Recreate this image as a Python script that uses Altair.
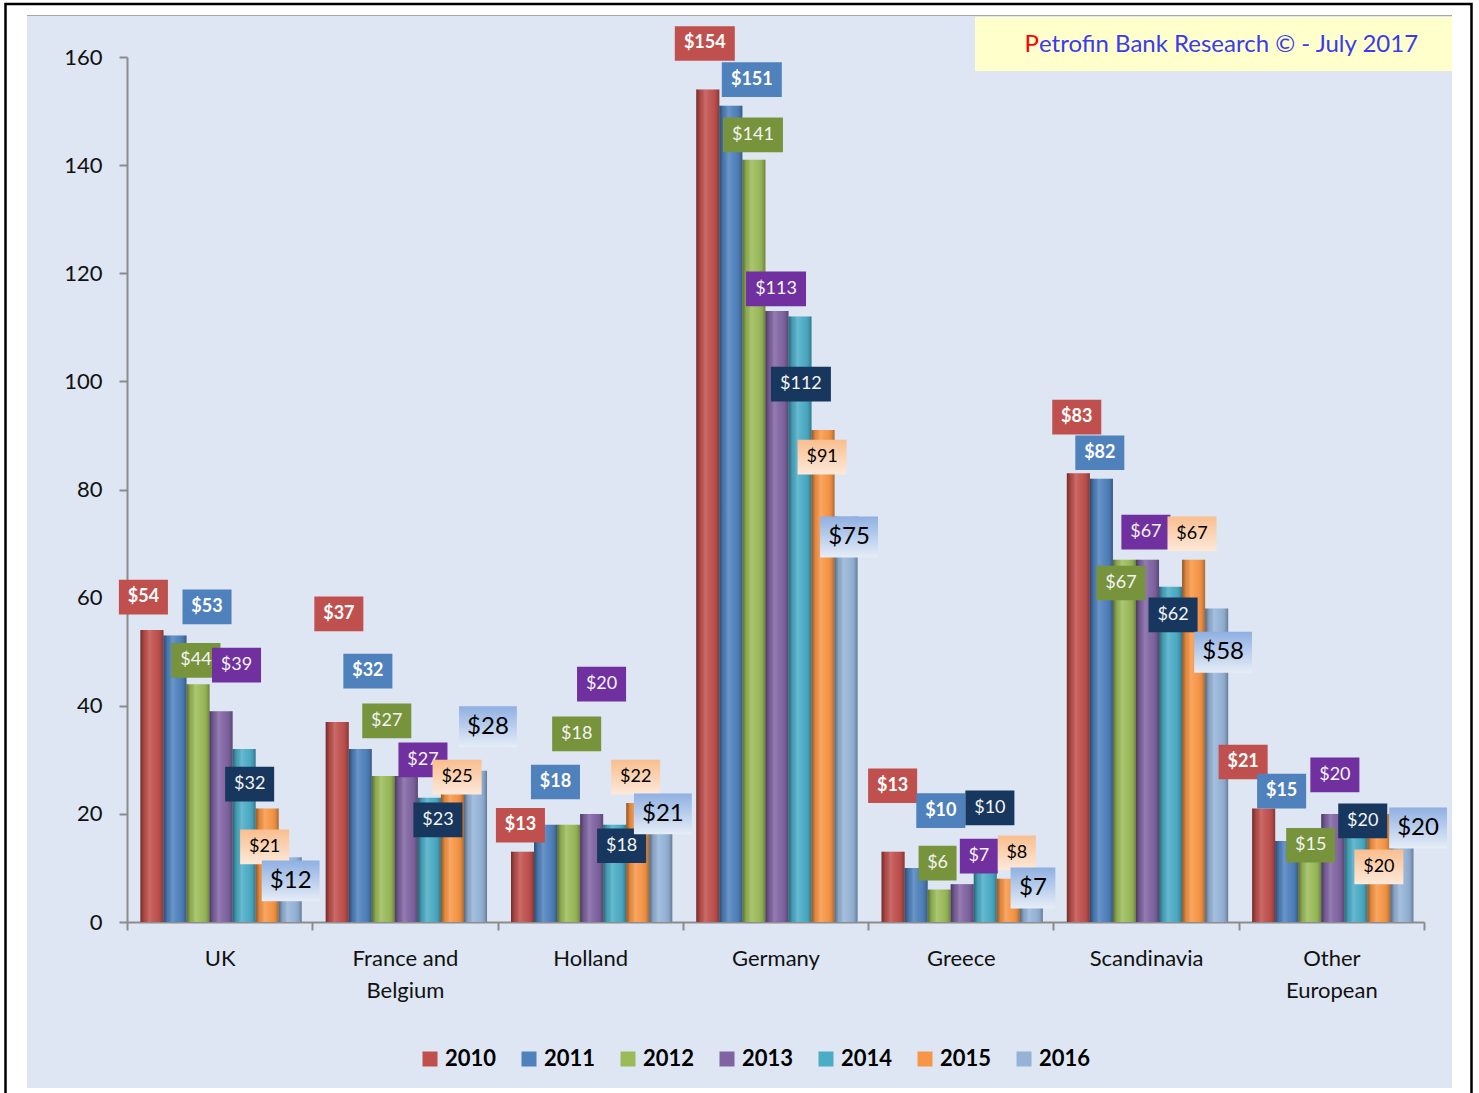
import altair as alt
import pandas as pd

# Regions on the category axis ("\n" marks a line break in the tick label)
regions = ["UK", "France and\nBelgium", "Holland", "Germany", "Greece",
           "Scandinavia", "Other\nEuropean"]
years = ["2010", "2011", "2012", "2013", "2014", "2015", "2016"]

# Portfolio size per region (US$ bn), one list per year
v2010 = [54, 37, 13, 154, 13, 83, 21]
v2011 = [53, 32, 18, 151, 10, 82, 15]
v2012 = [44, 27, 18, 141, 6, 67, 15]
v2013 = [39, 27, 20, 113, 7, 67, 20]
v2014 = [32, 23, 18, 112, 10, 62, 20]
v2015 = [21, 25, 22, 91, 8, 67, 20]
v2016 = [12, 28, 21, 75, 7, 58, 20]
series = [v2010, v2011, v2012, v2013, v2014, v2015, v2016]

# Hand placement of the value call-outs: vertical lift (axis units) and
# sideways slide (in bar widths) from the top centre of each bar
label_lift = {
    "2010": [6.1, 20.0, 4.9, 8.5, 12.2, 10.4, 8.6],
    "2011": [5.3, 14.4, 7.9, 4.8, 10.6, 4.8, 9.2],
    "2012": [4.4, 10.2, 16.8, 4.6, 4.9, -4.3, -0.8],
    "2013": [8.5, 3.0, 24.0, 4.1, 5.2, 5.1, 7.2],
    "2014": [-6.5, -4.1, -3.9, -12.5, 11.1, -5.2, -1.3],
    "2015": [-7.1, 1.8, 4.8, -5.0, 4.8, 4.8, -9.8],
    "2016": [-4.4, 8.1, -1.0, -3.8, -0.7, -8.1, -2.6],
}
label_slide = {
    "2010": [-0.37, 0.07, -0.09, -0.13, -0.02, -0.07, -0.89],
    "2011": [1.39, 0.33, 0.43, 0.91, 1.07, -0.07, -0.22],
    "2012": [-0.09, 0.15, 0.35, -0.04, -0.07, -0.15, 0.04],
    "2013": [0.67, 0.72, 0.43, -0.04, 0.72, -0.07, 0.09],
    "2014": [0.24, 0.37, 0.30, 0.04, 0.20, 0.11, 0.30],
    "2015": [-0.11, 0.20, -0.09, -0.04, 0.37, -0.07, 0.00],
    "2016": [0.02, 0.54, 0.09, 0.13, 0.07, 0.28, 0.70],
}

bar_colors = ["#c0504d", "#4f81bd", "#9bbb59", "#8064a2", "#4bacc6", "#f79646", "#95b3d7"]

FONT = "Lato"
OUTER = 0.52   # outer padding of the year band inside each region
ALIGN = 0.56   # where that padding is split (0 = all right, 1 = all left)
U_DOMAIN = [-2 * OUTER * ALIGN, 7 + 2 * OUTER * (1 - ALIGN)]

rows = []
for ci, region in enumerate(regions):
    for yi, yr in enumerate(years):
        v = series[yi][ci]
        text = f"${v}"
        rows.append({
            "region": region,
            "year": yr,
            "value": v,
            "text": text,
            "label_at": v + label_lift[yr][ci],
            "label_u": yi + 0.5 + label_slide[yr][ci],
            "box": f"w{len(text)}",
        })
df = pd.DataFrame(rows)

x_enc = alt.X(
    "region:N", sort=regions, title=None,
    scale=alt.Scale(paddingInner=0, paddingOuter=0),
    axis=alt.Axis(tickBand="extent", labelAngle=0, tickSize=8, labelPadding=18,
                  labelExpr="split(datum.label, '\\n')", labelLineHeight=32),
)
y_axis = alt.Axis(values=list(range(0, 161, 20)), tickSize=8, labelPadding=17)
y_scale = alt.Scale(domain=[0, 160], nice=False, zero=True)
bar_offset = alt.XOffset("year:N", sort=years,
                         scale=alt.Scale(paddingInner=0, paddingOuter=OUTER, align=ALIGN))
label_offset = alt.XOffset("label_u:Q",
                           scale=alt.Scale(domain=U_DOMAIN, zero=False, nice=False))

base = alt.Chart(df)
one = alt.Data(values=[{"k": 0}])

# Page furniture: white frame, black border, yellow credit box
frame = [
    alt.Chart(one).mark_rect(fill="white").encode(
        x=alt.value(-127), x2=alt.value(-100), y=alt.value(-57), y2=alt.value(1036)),
    alt.Chart(one).mark_rect(fill="white").encode(
        x=alt.value(1325), x2=alt.value(1352), y=alt.value(-57), y2=alt.value(1036)),
    alt.Chart(one).mark_rect(fill="white").encode(
        x=alt.value(-127), x2=alt.value(1352), y=alt.value(-57), y2=alt.value(-42)),
    alt.Chart(one).mark_rect(fill="white").encode(
        x=alt.value(-127), x2=alt.value(1352), y=alt.value(1031), y2=alt.value(1036)),
    alt.Chart(one).mark_rect(fill="#a6a6a6").encode(
        x=alt.value(-100), x2=alt.value(1325), y=alt.value(-42), y2=alt.value(-41)),
    alt.Chart(one).mark_rect(fillOpacity=0, stroke="black", strokeWidth=2.5).encode(
        x=alt.value(-121.5), x2=alt.value(1344.5), y=alt.value(-53), y2=alt.value(1045)),
    alt.Chart(one).mark_rect(fill="#ffffcc").encode(
        x=alt.value(848), x2=alt.value(1325), y=alt.value(-40), y2=alt.value(14)),
]

bars = base.mark_bar(strokeWidth=0).encode(
    x=x_enc, xOffset=bar_offset,
    y=alt.Y("value:Q", scale=y_scale, axis=y_axis, title=None),
    color=alt.Color("year:N", sort=years,
                    scale=alt.Scale(domain=years, range=bar_colors),
                    legend=alt.Legend(title=None, orient="none", direction="horizontal",
                                      legendX=292, legendY=991, symbolType="square",
                                      symbolSize=225, symbolStrokeWidth=0,
                                      labelFont=FONT, labelFontSize=22,
                                      labelFontWeight="bold", labelColor="black",
                                      labelOffset=4, columnPadding=21)),
)

# Cylinder-style shading laid over every bar
shade = base.mark_bar(
    fill=alt.LinearGradient(
        gradient="linear", x1=0, x2=1, y1=0, y2=0,
        stops=[
            alt.GradientStop(offset=0, color="rgba(0,0,0,0.42)"),
            alt.GradientStop(offset=0.18, color="rgba(0,0,0,0.08)"),
            alt.GradientStop(offset=0.38, color="rgba(255,255,255,0.16)"),
            alt.GradientStop(offset=0.6, color="rgba(255,255,255,0.04)"),
            alt.GradientStop(offset=0.85, color="rgba(0,0,0,0.08)"),
            alt.GradientStop(offset=1, color="rgba(0,0,0,0.3)"),
        ],
    )
).encode(x=x_enc, xOffset=bar_offset,
         y=alt.Y("value:Q", scale=y_scale, axis=y_axis, title=None))

# Call-out boxes: a rectangle symbol whose width follows the label length
HALF_H = 0.578
half_w = {"w2": 0.633, "w3": 0.817, "w4": 1.0}
box_domain = list(half_w)
box_paths = [f"M{-w},{-HALF_H}H{w}V{HALF_H}H{-w}Z" for w in half_w.values()]


def vgrad(top, bottom):
    return alt.LinearGradient(
        gradient="linear", x1=0, x2=0, y1=0, y2=1,
        stops=[alt.GradientStop(offset=0, color=top),
               alt.GradientStop(offset=1, color=bottom)])


box_style = {
    "2010": dict(fill="#c0504d", size=3600),
    "2011": dict(fill="#4f81bd", size=3600),
    "2012": dict(fill="#77933c", size=3600),
    "2013": dict(fill="#7030a0", size=3600),
    "2014": dict(fill="#17375e", size=3600),
    "2015": dict(fill=vgrad("#f9be8e", "#fde9da"), size=3600),
    "2016": dict(fill=vgrad("#8fb0e2", "#e6edf7"), size=5013),
}
text_style = {
    "2010": dict(color="white", fontWeight="bold", fontSize=18),
    "2011": dict(color="white", fontWeight="bold", fontSize=18),
    "2012": dict(color="#f4f4f4", fontWeight="normal", fontSize=18),
    "2013": dict(color="#f4f4f4", fontWeight="normal", fontSize=18),
    "2014": dict(color="#f4f4f4", fontWeight="normal", fontSize=18),
    "2015": dict(color="black", fontWeight="normal", fontSize=18),
    "2016": dict(color="black", fontWeight="normal", fontSize=24),
}

label_layers = []
for yr in years:
    sub = base.transform_filter(alt.datum.year == yr)
    label_y = alt.Y("label_at:Q", scale=y_scale, axis=y_axis, title=None)
    label_layers.append(
        sub.mark_point(filled=True, opacity=1, strokeWidth=0, **box_style[yr]).encode(
            x=x_enc, xOffset=label_offset, y=label_y,
            shape=alt.Shape("box:N", scale=alt.Scale(domain=box_domain, range=box_paths),
                            legend=None),
        )
    )
    label_layers.append(
        sub.mark_text(font=FONT, baseline="middle", align="center",
                      **text_style[yr]).encode(
            x=x_enc, xOffset=label_offset, y=label_y, text="text:N",
        )
    )

# Credit line: a red initial followed by the rest of the text in blue
credit_layers = [
    alt.Chart(one).mark_text(text="P", font=FONT, fontSize=24, color="#ff0000",
                             align="right", baseline="middle").encode(
        x=alt.value(912), y=alt.value(-12)),
    alt.Chart(one).mark_text(text="etrofin Bank Research \u00a9 - July 2017", font=FONT,
                             fontSize=24, color="#3a3af0",
                             align="left", baseline="middle").encode(
        x=alt.value(912), y=alt.value(-12)),
]

chart = alt.layer(*frame, bars, shade, *label_layers, *credit_layers).resolve_scale(
    xOffset="independent"
).properties(
    width=1297, height=865,
    autosize=alt.AutoSizeParams(type="none"),
    padding={"left": 127, "top": 57, "right": 55, "bottom": 171},
    background="#dde6f2",
).configure_view(strokeWidth=0).configure_axis(
    grid=False, domainColor="#8c8c8c", tickColor="#8c8c8c", domainWidth=2, tickWidth=2,
    labelFont=FONT, labelFontSize=22, labelColor="#111111",
)

chart.save("out.html", embed_options={"renderer": "svg", "actions": False})
